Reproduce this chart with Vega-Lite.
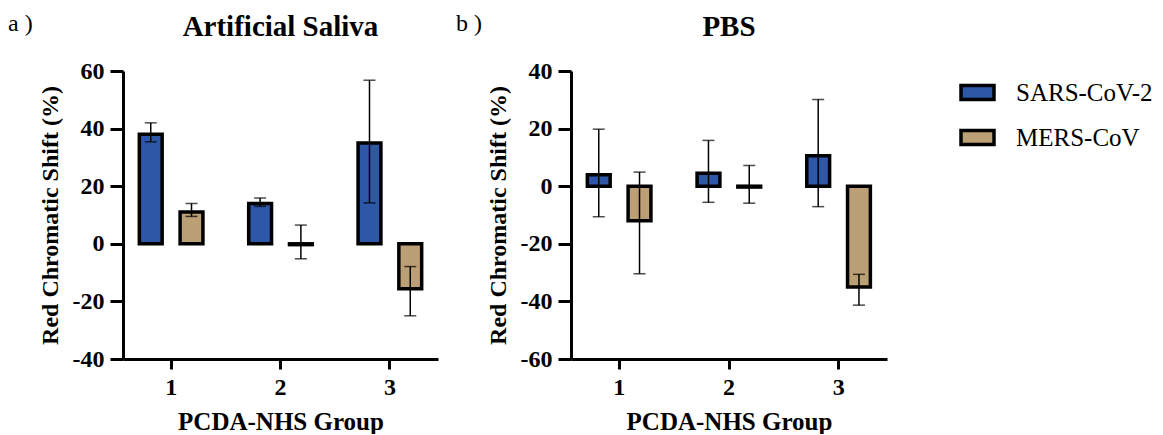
{
  "$schema": "https://vega.github.io/schema/vega-lite/v6.json",
  "background": "white",
  "padding": {"left": 8, "top": 12, "right": 5, "bottom": 0},
  "config": {
    "view": {"stroke": null},
    "font": "Liberation Serif",
    "axis": {
      "grid": false,
      "domainColor": "black",
      "domainWidth": 3,
      "tickColor": "black",
      "tickWidth": 3,
      "labelFont": "Liberation Serif",
      "labelFontWeight": "bold",
      "labelFontSize": 24,
      "labelColor": "black",
      "titleFont": "Liberation Serif",
      "titleFontWeight": "bold",
      "titleFontSize": 24,
      "titleColor": "black"
    },
    "title": {"font": "Liberation Serif", "fontSize": 29, "fontWeight": "bold", "color": "black"},
    "legend": {
      "labelFont": "Liberation Serif",
      "labelFontSize": 25,
      "labelFontWeight": "normal",
      "labelColor": "black",
      "symbolType": "M-1,-0.42H1V0.42H-1Z",
      "symbolSize": 1089,
      "symbolStrokeColor": "black",
      "symbolStrokeWidth": 3.5,
      "labelOffset": 20,
      "rowPadding": 12
    }
  },
  "datasets": {
    "saliva": [
      {"group": "1", "series": "SARS-CoV-2", "mean": 38.0, "lo": 35.4, "hi": 42.0},
      {"group": "1", "series": "MERS-CoV", "mean": 11.0, "lo": 9.5, "hi": 14.0},
      {"group": "2", "series": "SARS-CoV-2", "mean": 14.0, "lo": 13.0, "hi": 15.9},
      {"group": "2", "series": "MERS-CoV", "mean": -0.3, "lo": -5.2, "hi": 6.5},
      {"group": "3", "series": "SARS-CoV-2", "mean": 35.0, "lo": 14.2, "hi": 56.8},
      {"group": "3", "series": "MERS-CoV", "mean": -15.6, "lo": -25.0, "hi": -7.9}
    ],
    "pbs": [
      {"group": "1", "series": "SARS-CoV-2", "mean": 4.0, "lo": -10.6, "hi": 19.8},
      {"group": "1", "series": "MERS-CoV", "mean": -12.0, "lo": -30.4, "hi": 4.9},
      {"group": "2", "series": "SARS-CoV-2", "mean": 4.5, "lo": -5.6, "hi": 15.9},
      {"group": "2", "series": "MERS-CoV", "mean": -0.3, "lo": -5.9, "hi": 7.2},
      {"group": "3", "series": "SARS-CoV-2", "mean": 10.6, "lo": -7.1, "hi": 30.1},
      {"group": "3", "series": "MERS-CoV", "mean": -35.0, "lo": -41.3, "hi": -30.6}
    ]
  },
  "spacing": 18,
  "hconcat": [
    {
      "title": {"text": "a )", "anchor": "start", "fontWeight": "normal", "fontSize": 24, "offset": -23, "dx": -30},
      "hconcat": [
        {
          "width": 315,
          "height": 288,
          "title": {"text": "Artificial Saliva", "offset": 17},
          "data": {"name": "saliva"},
          "encoding": {
            "x": {"field": "group", "type": "nominal", "scale": {"paddingInner": 0.18, "paddingOuter": 0.03},
                  "axis": {"labelAngle": 0, "title": "PCDA-NHS Group", "tickSize": 10, "labelPadding": 6, "titlePadding": 10, "titleFontSize": 25}},
            "xOffset": {"field": "series", "type": "nominal", "sort": ["SARS-CoV-2", "MERS-CoV"], "scale": {"paddingInner": 0.44, "paddingOuter": 0.32}}
          },
          "layer": [
            {
              "mark": {"type": "bar", "stroke": "black", "strokeWidth": 3.5},
              "encoding": {
                "y": {"field": "mean", "type": "quantitative", "scale": {"domain": [-40, 60], "nice": false, "zero": false},
                      "axis": {"title": "Red Chromatic Shift (%)", "values": [-40, -30, -20, -10, 0, 10, 20, 30, 40, 50, 60],
                               "labelExpr": "datum.value % 20 === 0 ? replace(datum.label, '−', '-') : ''", "tickSize": {"expr": "datum.value % 20 === 0 ? 13 : 7"},
                               "labelPadding": 6, "titlePadding": 10}},
                "color": {"field": "series", "type": "nominal", "sort": ["SARS-CoV-2", "MERS-CoV"],
                          "scale": {"domain": ["SARS-CoV-2", "MERS-CoV"], "range": ["#2F57A8", "#BBA075"]},
                          "legend": {"title": null, "orient": "none", "legendX": 836, "legendY": 3}}
              }
            },
            {"mark": {"type": "rule", "color": "black", "strokeWidth": 2.5}, "encoding": {"y": {"datum": 0}}},
            {"mark": {"type": "rule", "color": "black", "strokeWidth": 1.5},
             "encoding": {"y": {"field": "lo", "type": "quantitative"}, "y2": {"field": "hi"}}},
            {"mark": {"type": "tick", "color": "black", "thickness": 1.5, "size": 12},
             "encoding": {"y": {"field": "lo", "type": "quantitative"}}},
            {"mark": {"type": "tick", "color": "black", "thickness": 1.5, "size": 12},
             "encoding": {"y": {"field": "hi", "type": "quantitative"}}}
          ]
        }
      ]
    },
    {
      "title": {"text": "b )", "anchor": "start", "fontWeight": "normal", "fontSize": 24, "offset": -23, "dx": -30},
      "hconcat": [
        {
          "width": 316,
          "height": 288,
          "title": {"text": "PBS", "offset": 17},
          "data": {"name": "pbs"},
          "encoding": {
            "x": {"field": "group", "type": "nominal", "scale": {"paddingInner": 0.18, "paddingOuter": 0.03},
                  "axis": {"labelAngle": 0, "title": "PCDA-NHS Group", "tickSize": 10, "labelPadding": 6, "titlePadding": 10, "titleFontSize": 25}},
            "xOffset": {"field": "series", "type": "nominal", "sort": ["SARS-CoV-2", "MERS-CoV"], "scale": {"paddingInner": 0.44, "paddingOuter": 0.32}}
          },
          "layer": [
            {
              "mark": {"type": "bar", "stroke": "black", "strokeWidth": 3.5},
              "encoding": {
                "y": {"field": "mean", "type": "quantitative", "scale": {"domain": [-60, 40], "nice": false, "zero": false},
                      "axis": {"title": "Red Chromatic Shift (%)", "values": [-60, -50, -40, -30, -20, -10, 0, 10, 20, 30, 40],
                               "labelExpr": "datum.value % 20 === 0 ? replace(datum.label, '−', '-') : ''", "tickSize": {"expr": "datum.value % 20 === 0 ? 13 : 7"},
                               "labelPadding": 6, "titlePadding": 10}},
                "color": {"field": "series", "type": "nominal", "sort": ["SARS-CoV-2", "MERS-CoV"],
                          "scale": {"domain": ["SARS-CoV-2", "MERS-CoV"], "range": ["#2F57A8", "#BBA075"]},
                          "legend": {"title": null, "orient": "none", "legendX": 836, "legendY": 3}}
              }
            },
            {"mark": {"type": "rule", "color": "black", "strokeWidth": 2.5}, "encoding": {"y": {"datum": 0}}},
            {"mark": {"type": "rule", "color": "black", "strokeWidth": 1.5},
             "encoding": {"y": {"field": "lo", "type": "quantitative"}, "y2": {"field": "hi"}}},
            {"mark": {"type": "tick", "color": "black", "thickness": 1.5, "size": 12},
             "encoding": {"y": {"field": "lo", "type": "quantitative"}}},
            {"mark": {"type": "tick", "color": "black", "thickness": 1.5, "size": 12},
             "encoding": {"y": {"field": "hi", "type": "quantitative"}}}
          ]
        }
      ]
    }
  ]
}
